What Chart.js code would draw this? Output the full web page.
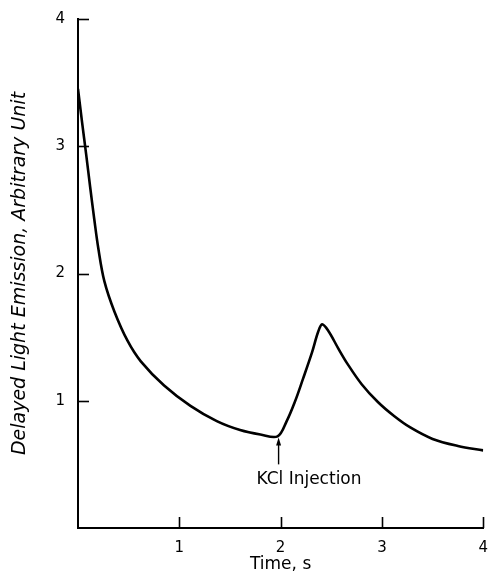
<!DOCTYPE html>
<html><head><meta charset="utf-8">
<script src="https://cdn.jsdelivr.net/npm/chart.js@4/dist/chart.umd.min.js"></script>
<style>html,body{margin:0;padding:0;background:#fff}canvas{display:block}</style>
</head><body>
<canvas id="c" width="491" height="573"></canvas>
<script>
// Data
const timeS = [0, 0.04, 0.08, 0.12, 0.16, 0.2, 0.26, 0.36, 0.49, 0.62, 0.85, 1.11, 1.37, 1.6, 1.8, 1.97, 2.06, 2.14, 2.22, 2.31, 2.37, 2.41, 2.47, 2.57, 2.66, 2.8, 2.96, 3.12, 3.28, 3.5, 3.75, 4.0];
const emission = [3.45, 3.19, 2.94, 2.68, 2.43, 2.2, 1.94, 1.70, 1.47, 1.31, 1.12, 0.96, 0.84, 0.77, 0.735, 0.72, 0.84, 0.99, 1.17, 1.38, 1.54, 1.60, 1.55, 1.41, 1.29, 1.13, 0.99, 0.88, 0.79, 0.70, 0.645, 0.61];
const xTickValues = [1, 2, 3, 4];
const yTickValues = [1, 2, 3, 4];
const xTitle = 'Time, s';
const yTitle = 'Delayed Light Emission, Arbitrary Unit';
const injectionLabel = 'KCl Injection';
const injectionTime = 1.98;
const injectionLevel = 0.72;

const FONT = '"DejaVu Sans", sans-serif';

const inwardTicks = {
  id: 'inwardTicks',
  afterDraw(chart) {
    const {ctx, scales: {x, y}, chartArea: a} = chart;
    ctx.save();
    ctx.strokeStyle = '#000';
    ctx.lineWidth = 1.6;
    yTickValues.forEach(v => {
      const py = Math.round(y.getPixelForValue(v)) + 0.5;
      ctx.beginPath(); ctx.moveTo(a.left, py); ctx.lineTo(a.left + 11, py); ctx.stroke();
    });
    xTickValues.forEach(v => {
      const px = Math.round(x.getPixelForValue(v)) + 0.5;
      ctx.beginPath(); ctx.moveTo(px, a.bottom); ctx.lineTo(px, a.bottom - 11); ctx.stroke();
    });
    // injection arrow
    const ax = x.getPixelForValue(injectionTime);
    const tipY = y.getPixelForValue(injectionLevel) + 1;
    const tailY = y.getPixelForValue(0.5);
    ctx.lineWidth = 1.4;
    ctx.beginPath(); ctx.moveTo(ax, tailY); ctx.lineTo(ax, tipY + 6); ctx.stroke();
    ctx.fillStyle = '#000';
    ctx.beginPath(); ctx.moveTo(ax, tipY); ctx.lineTo(ax - 2.5, tipY + 8); ctx.lineTo(ax + 2.5, tipY + 8); ctx.closePath(); ctx.fill();
    // label
    ctx.font = '17px ' + FONT;
    ctx.textAlign = 'center';
    ctx.textBaseline = 'middle';
    ctx.fillText(injectionLabel, x.getPixelForValue(2.28), y.getPixelForValue(0.38));
    ctx.restore();
  }
};

new Chart(document.getElementById('c'), {
  type: 'line',
  data: {
    datasets: [{
      data: timeS.map((t, i) => ({x: t, y: emission[i]})),
      borderColor: '#000',
      borderWidth: 2.6,
      pointRadius: 0,
      fill: false,
      tension: 0.35
    }]
  },
  options: {
    responsive: false,
    devicePixelRatio: 1,
    animation: false,
    layout: {padding: {top: 19, right: 5, bottom: 0, left: 0}},
    plugins: {legend: {display: false}, tooltip: {enabled: false}},
    scales: {
      x: {
        type: 'linear', min: 0, max: 4,
        afterFit: s => { s.height = 45; },
        afterBuildTicks: s => { s.ticks = [0].concat(xTickValues).map(v => ({value: v})); },
        grid: {display: false},
        border: {display: true, color: '#000', width: 2},
        ticks: {color: '#000', font: {family: FONT, size: 15}, padding: 3,
                callback: v => v === 0 ? '' : String(v)},
        title: {display: true, text: xTitle, color: '#000', font: {family: FONT, size: 17, lineHeight: 1}, padding: {top: 0, bottom: 0}}
      },
      y: {
        type: 'linear', min: 0, max: 4,
        afterFit: s => { s.width = 78; },
        afterBuildTicks: s => { s.ticks = [0].concat(yTickValues).map(v => ({value: v})); },
        grid: {display: false},
        border: {display: true, color: '#000', width: 2},
        ticks: {color: '#000', font: {family: FONT, size: 15}, padding: 5,
                callback: v => v === 0 ? '' : String(v)},
        title: {display: true, text: yTitle, color: '#000', font: {family: FONT, size: 19, style: 'italic', lineHeight: 1}, padding: {top: 11, bottom: 0}}
      }
    }
  },
  plugins: [inwardTicks]
});
</script>
</body></html>
